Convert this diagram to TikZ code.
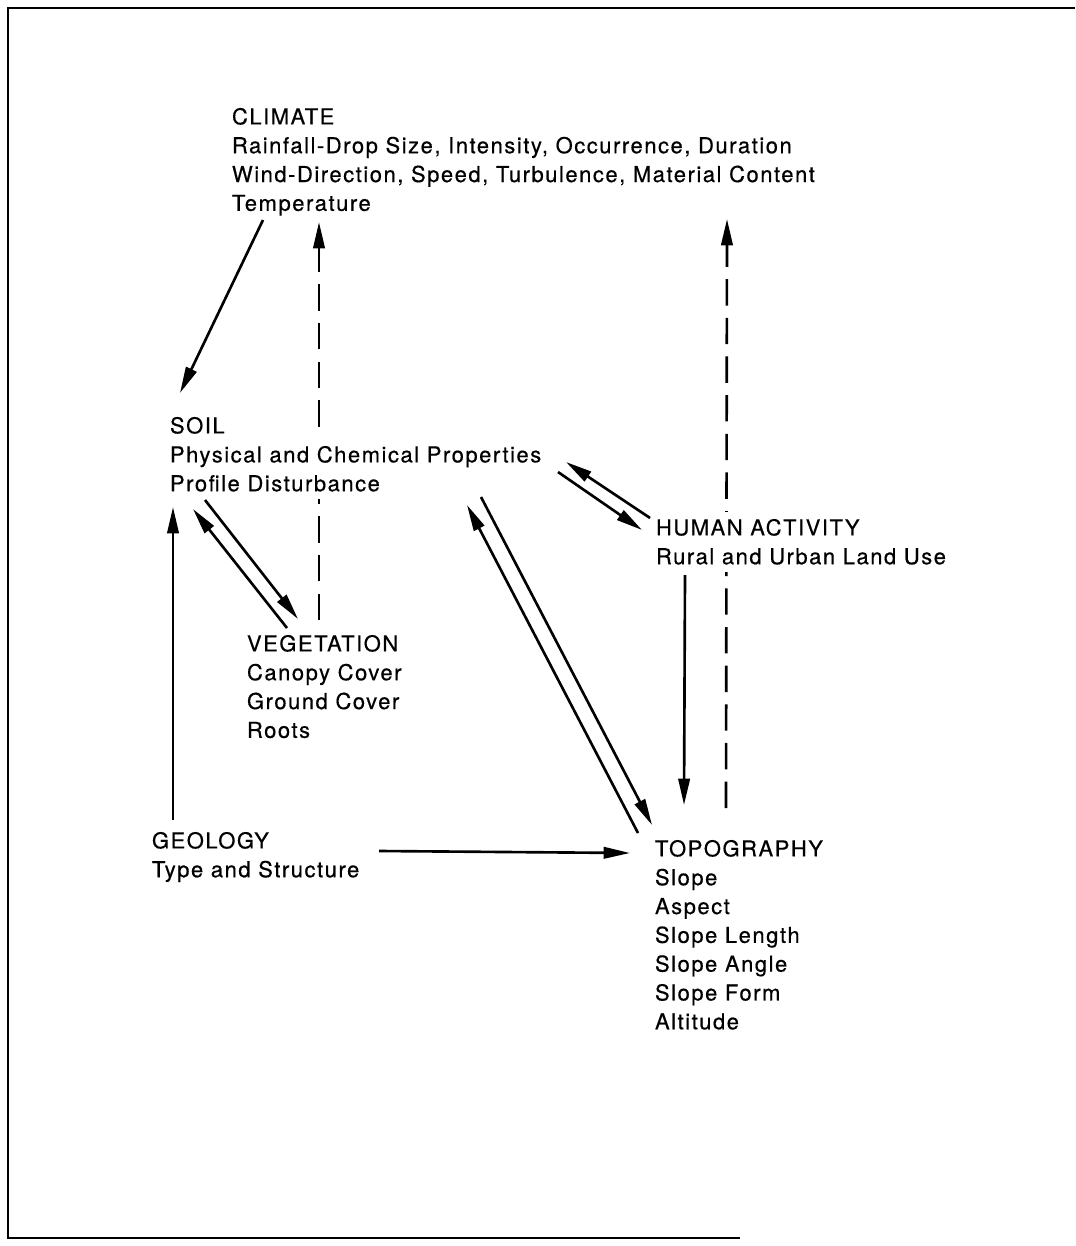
\documentclass[tikz,border=0pt]{standalone}
\usepackage{fontspec}
\setmainfont[LetterSpace=7, FakeBold=0.5]{TeX Gyre Heros}
\usetikzlibrary{arrows.meta,calc,backgrounds}

\tikzset{
  factor/.style={anchor=north west, inner sep=0pt, outer sep=0pt, align=left,
    font=\fontsize{12.5}{16.4}\selectfont},
  masked/.style={draw=white, line width=8pt, fill=white},
  link/.style={line width=1.5pt, -{Triangle[length=15pt,width=6.5pt]}},
  feedback/.style={link, dash pattern=on 15pt off 7pt},
}

\begin{document}
\begin{tikzpicture}[x=0.02cm, y=-0.02cm]
  \useasboundingbox (0,0) rectangle (1075,1246);
  \draw[line width=1.1pt] (1075,8) -- (8,8) -- (8,1238) -- (740,1238);

  \node[factor] (climate) at (232,108) {CLIMATE\\Rainfall-Drop Size, Intensity, Occurrence, Duration\\Wind-Direction, Speed, Turbulence, Material Content\\Temperature};
  \node[factor] (soil) at (170,417) {SOIL};
  \node[factor, masked] (soilprops) at (170,446) {Physical and Chemical Properties\\Profile Disturbance};
  \node[factor, masked] (human) at (656,519) {HUMAN ACTIVITY\\Rural and Urban Land Use};
  \node[factor] (veg) at (247,635) {VEGETATION\\Canopy Cover\\Ground Cover\\Roots};
  \node[factor] (geo) at (152,832) {GEOLOGY\\Type and Structure};
  \node[factor] (topo) at (655,840) {TOPOGRAPHY\\Slope\\Aspect\\Slope Length\\Slope Angle\\Slope Form\\Altitude};

  % solid links
  \draw[link] ($(climate.north west)+(31,112)$) -- ($(soil.north west)+(10,-24)$);
  \draw[link] ($(geo.north west)+(21,-12)$) -- ($(soilprops.north west)+(3,61)$);
  \draw[link] ($(soilprops.north west)+(35,54)$) -- ($(veg.north west)+(51,-16)$);
  \draw[link] ($(veg.north west)+(40,-7)$) -- ($(soilprops.north west)+(23,63)$);
  \draw[link] ($(soilprops.north west)+(311,51)$) -- ($(topo.north west)+(-3,-15)$);
  \draw[link] ($(topo.north west)+(-17,-7)$) -- ($(soilprops.north west)+(297,59)$);
  \draw[link] ($(soilprops.north west)+(388,26)$) -- ($(human.north west)+(-14,11)$);
  \draw[link] ($(human.north west)+(-6,-1)$) -- ($(soilprops.north west)+(396,16)$);
  \draw[link] ($(human.north west)+(29,56)$) -- ($(topo.north west)+(29,-35)$);
  \draw[link] ($(geo.north west)+(227,19)$) -- ($(topo.north west)+(-25,13)$);

  % feedback to climate
  \begin{scope}[on background layer]
    \draw[feedback] ($(veg.north west)+(72,-15)$) -- ($(climate.north west)+(87,114)$);
    \draw[feedback] ($(topo.north west)+(71,-32)$) -- ($(climate.north west)+(495,111)$);
  \end{scope}
\end{tikzpicture}
\end{document}
